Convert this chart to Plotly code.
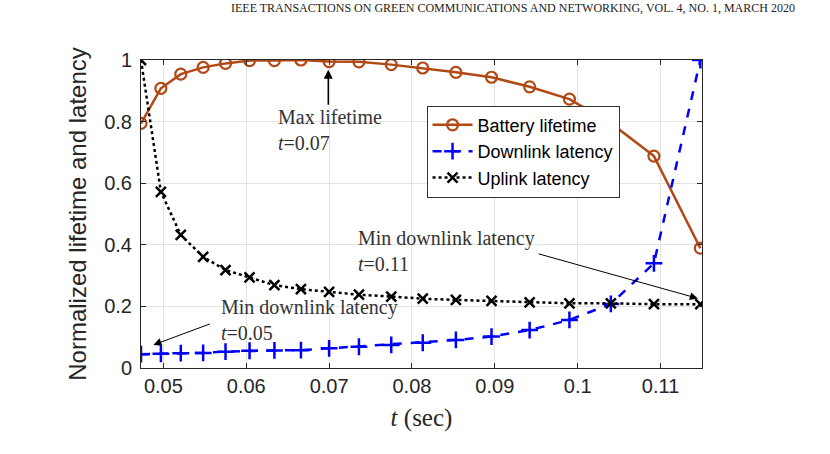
import plotly.graph_objects as go

t_vals = [0.0473, 0.0497, 0.0521, 0.0548, 0.0575, 0.0604, 0.0634, 0.0666, 0.0700,
          0.0736, 0.0775, 0.0813, 0.0853, 0.0896, 0.0942, 0.0990, 0.1040, 0.1092, 0.1148]
battery = [0.794, 0.908, 0.954, 0.976, 0.989, 0.998, 0.998, 1.0, 0.995,
           0.994, 0.985, 0.974, 0.960, 0.944, 0.913, 0.873, 0.795, 0.688, 0.389]
downlink = [0.045, 0.046, 0.048, 0.049, 0.053, 0.056, 0.057, 0.058, 0.064,
            0.069, 0.075, 0.082, 0.091, 0.102, 0.123, 0.156, 0.208, 0.340, 1.0]
uplink = [1.0, 0.572, 0.432, 0.361, 0.318, 0.294, 0.269, 0.256, 0.247,
          0.238, 0.232, 0.225, 0.221, 0.218, 0.213, 0.210, 0.210, 0.207, 0.207]

x_ticks = [0.05, 0.06, 0.07, 0.08, 0.09, 0.1, 0.11]
x_tick_text = ["0.05", "0.06", "0.07", "0.08", "0.09", "0.1", "0.11"]
y_ticks = [0, 0.2, 0.4, 0.6, 0.8, 1]
y_tick_text = ["0", "0.2", "0.4", "0.6", "0.8", "1"]

BROWN = "rgb(178,72,20)"
BLUE = "#0000ff"

fig = go.Figure()
fig.add_trace(go.Scatter(
    x=t_vals, y=battery, name="Battery lifetime", mode="lines+markers",
    line=dict(color=BROWN, width=2.5),
    marker=dict(symbol="circle-open", size=11, color=BROWN, line=dict(width=2.2, color=BROWN)),
))
fig.add_trace(go.Scatter(
    x=t_vals, y=downlink, name="Downlink latency", mode="lines+markers",
    line=dict(color=BLUE, width=2.5, dash="dash"),
    marker=dict(symbol="cross-thin-open", size=12, color=BLUE, line=dict(width=2.5, color=BLUE)),
))
fig.add_trace(go.Scatter(
    x=t_vals, y=uplink, name="Uplink latency", mode="lines+markers",
    line=dict(color="black", width=2.5, dash="dot"),
    marker=dict(symbol="x-thin-open", size=10, color="black", line=dict(width=2.5, color="black")),
))

ann_font = dict(family="Liberation Serif", size=20, color="#333333")
annotations = [
    dict(x=0.0636, y=0.773, xref="x", yref="y", text="Max lifetime<br><i>t</i>=0.07",
         showarrow=False, xanchor="left", yanchor="middle", align="left", font=ann_font),
    dict(x=0.0733, y=0.381, xref="x", yref="y", text="Min downlink latency<br><i>t</i>=0.11",
         showarrow=False, xanchor="left", yanchor="middle", align="left", font=ann_font),
    dict(x=0.0567, y=0.156, xref="x", yref="y", text="Min downlink latency<br><i>t</i>=0.05",
         showarrow=False, xanchor="left", yanchor="middle", align="left", font=ann_font),
    # arrows
    dict(x=0.0699, y=0.968, ax=0.0699, ay=0.85, xref="x", yref="y", axref="x", ayref="y",
         text="", showarrow=True, arrowhead=2, arrowsize=1.2, arrowwidth=1.5, arrowcolor="black"),
    dict(x=0.1145, y=0.226, ax=0.0951, ay=0.372, xref="x", yref="y", axref="x", ayref="y",
         text="", showarrow=True, arrowhead=2, arrowsize=1.6, arrowwidth=1, arrowcolor="black"),
    dict(x=0.0488, y=0.075, ax=0.0558, ay=0.145, xref="x", yref="y", axref="x", ayref="y",
         text="", showarrow=True, arrowhead=2, arrowsize=1.6, arrowwidth=1, arrowcolor="black"),
    # page header
    dict(x=(229 - 141) / 561, y=(368 + 1) / 308, xref="paper", yref="paper",
         text="IEEE TRANSACTIONS ON GREEN COMMUNICATIONS AND NETWORKING, VOL. 4, NO. 1, MARCH 2020",
         showarrow=False, xanchor="left", yanchor="top",
         font=dict(family="Liberation Serif", size=12, color="#222222")),
]

fig.update_layout(
    width=830, height=454,
    margin=dict(l=141, r=128, t=60, b=86),
    paper_bgcolor="white", plot_bgcolor="white",
    showlegend=True,
    legend=dict(x=0.509, y=0.852, xanchor="left", yanchor="top",
                bgcolor="white", bordercolor="#333333", borderwidth=1,
                font=dict(family="Liberation Sans", size=18, color="black"),
                tracegroupgap=0, itemwidth=40),
    annotations=annotations,
)
fig.update_xaxes(
    range=[0.0473, 0.1150], tickvals=x_ticks, ticktext=x_tick_text,
    showline=True, linecolor="#262626", linewidth=1, mirror="ticks",
    ticks="inside", ticklen=5, tickcolor="#262626",
    showgrid=True, gridcolor="#e3e3e3", gridwidth=1, zeroline=False,
    tickfont=dict(family="Liberation Sans", size=20, color="#262626"),
    title=dict(text="<i>t</i> (sec)", standoff=12,
               font=dict(family="Liberation Serif", size=25, color="#262626")),
)
fig.update_yaxes(
    range=[0, 1], tickvals=y_ticks, ticktext=y_tick_text,
    showline=True, linecolor="#262626", linewidth=1, mirror="ticks",
    ticks="inside", ticklen=5, tickcolor="#262626", ticklabelstandoff=4,
    showgrid=True, gridcolor="#e3e3e3", gridwidth=1, zeroline=False,
    tickfont=dict(family="Liberation Sans", size=20, color="#262626"),
    title=dict(text="Normalized lifetime and latency", standoff=10,
               font=dict(family="Liberation Sans", size=24, color="#262626")),
)

fig.write_html("out.html", config={"displayModeBar": False},
               post_script="document.body.style.margin='0';")
